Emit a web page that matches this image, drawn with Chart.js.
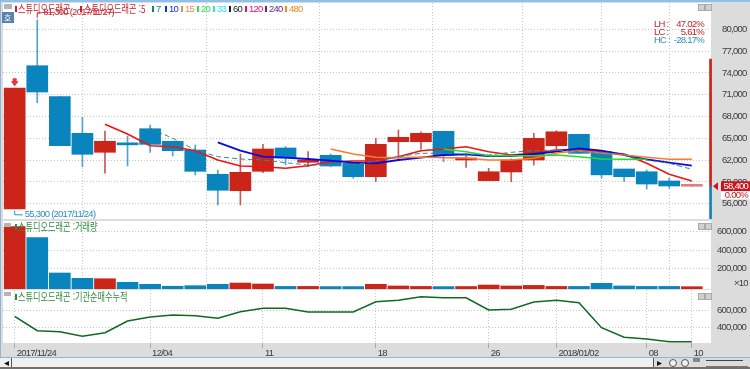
<!DOCTYPE html>
<html lang="ko">
<head>
<meta charset="utf-8">
<title>스튜디오드래곤</title>
<script src="https://cdn.jsdelivr.net/npm/chart.js@4/dist/chart.umd.min.js"></script>
<style>
html, body { margin: 0; padding: 0; }
body { width: 750px; height: 369px; overflow: hidden; background: #dcdcdc; position: relative; }
canvas { position: absolute; left: 0; }
.txt { position: absolute; white-space: pre; font-family: "Liberation Sans", sans-serif; font-size: 9.5px; letter-spacing: -0.75px; line-height: 10px; }
.kr { position: absolute; white-space: pre; font-family: "Noto Sans CJK KR", sans-serif; font-size: 11px; line-height: 11px; transform: scaleX(0.74); transform-origin: left top; }
.box { position: absolute; }
</style>
</head>
<body>
<canvas id="priceChart" width="750" height="216" style="top:3px"></canvas>
<canvas id="volumeChart" width="750" height="68" style="top:221px"></canvas>
<canvas id="instChart" width="750" height="79" style="top:290px"></canvas>
<div id="overlay"></div>
<script>
// candles
const opens  = [55300, 74990, 70730, 65690, 63075, 64300, 66320, 64590, 63390, 60050, 57790, 60460, 63670, 61700, 62660, 61560, 59720, 64530, 64530, 65960, 62020, 59170, 60370, 62020, 63980, 65550, 63160, 60780, 60400, 59130, 58400];
const closes = [71900, 71370, 63980, 62800, 64590, 64100, 64170, 63300, 60460, 57850, 60320, 63530, 62290, 62020, 61190, 59720, 64170, 65140, 65690, 62660, 62250, 60400, 62020, 65000, 65900, 62930, 59970, 59720, 58710, 58440, 58400];
const highs  = [71900, 81300, 70730, 67890, 66000, 65320, 66830, 64590, 64080, 60640, 62840, 64170, 63850, 63160, 62840, 61560, 65000, 66140, 65900, 65960, 62600, 60870, 62160, 65690, 66050, 65550, 63160, 60780, 60640, 59500, 58400];
const lows   = [55300, 69900, 63980, 61090, 60190, 61190, 63075, 62570, 59950, 55820, 55820, 60270, 61330, 61090, 61090, 59500, 59030, 62020, 63490, 61780, 61010, 59170, 59030, 61330, 63490, 62930, 59500, 59030, 58030, 58130, 58400];

const ma5  = [null, null, null, null, 66928, 65593, 63983, 63846, 63296, 62016, 61190, 61094, 60874, 61232, 61782, 61878, 61878, 62470, 63296, 63530, 63846, 63158, 62704, 62938, 63392, 63488, 63158, 62842, 61562, 60048, 59126];
const ma7  = [null, null, null, null, null, null, 66378, 65002, 63392, 62470, 62153, 62016, 61644, 61328, 61328, 61328, 61919, 62470, 62938, 62938, 62842, 62704, 63075, 63296, 63392, 63158, 63075, 62704, 62016, 61562, 60736];
const ma10 = [null, null, null, null, null, null, null, null, null, 64451, 63296, 62470, 62332, 62153, 61919, 61644, 61562, 62016, 62332, 62704, 62800, 62566, 62566, 62842, 63158, 63626, 63296, 62704, 62112, 61644, 61232];
const ma15 = [null, null, null, null, null, null, null, null, null, null, null, null, null, null, 63530, 62842, 62387, 62332, 62428, 62332, 62291, 62016, 62016, 62250, 62979, 63254, 62979, 62704, 62387, 62112, 62112];
const ma20 = [null, null, null, null, null, null, null, null, null, null, null, null, null, null, null, null, null, null, null, 63530, 63158, 62608, 62608, 62608, 62704, 62470, 62153, 62112, 62112];

const volumes = [654500, 534500, 149500, 91000, 87000, 48000, 26000, 5000, 11000, 26000, 40000, 29500, 3000, 3000, 1000, 1000, 26000, 8000, 3000, 1000, 2000, 18000, 8000, 14000, 3000, 3000, 37000, 8000, 3000, 3000, 0];
const instNet = [528800, 366000, 355000, 302700, 343500, 475700, 520900, 543500, 535600, 506200, 581000, 619000, 619000, 577400, 577400, 577400, 693800, 709600, 750300, 739000, 739000, 600000, 607900, 690400, 709600, 682500, 400000, 291500, 272300, 241800, 241800];

const priceTicks = [56000, 59000, 62000, 65000, 68000, 71000, 74000, 77000, 80000];
const volumeTicks = [200000, 400000, 600000];
const instTicks = [400000, 600000];
const dateTickIdx = [0, 6, 11, 16, 21, 24, 28, 30];
const dateTickLabels = ['2017/11/24', '12/04', '11', '18', '26', '2018/01/02', '08', '10'];

const RED = '#cb2419';
const BLUE = '#0a84bd';
const FONT = '"Liberation Sans", sans-serif';
const FONT_SIZE = 9.5;

const xMin = -0.518, xMax = 30.85;
const idx = opens.map((v, i) => i);

function linePoints(arr) {
    return arr.map((v, i) => ({ x: i, y: v }));
}

function xAxis(showLabels) {
    return {
        type: 'linear',
        min: xMin,
        max: xMax,
        offset: false,
        afterBuildTicks: (s) => { s.ticks = dateTickIdx.map(v => ({ value: v })); },
        afterFit: (s) => { s.height = showLabels ? 26 : 0; },
        border: { display: false, dash: [1, 2] },
        grid: { color: '#c6c6c6', drawTicks: showLabels, tickLength: 5, tickColor: '#a8a8a8' },
        ticks: {
            display: showLabels,
            autoSkip: false,
            maxRotation: 0,
            align: 'start',
            labelOffset: 2,
            padding: 0,
            color: '#3c3c3c',
            font: { family: FONT, size: FONT_SIZE },
            callback: (v) => dateTickLabels[dateTickIdx.indexOf(v)]
        }
    };
}

function yAxis(min, max, ticks, pad) {
    return {
        position: 'right',
        min: min,
        max: max,
        afterBuildTicks: (s) => { s.ticks = ticks.map(v => ({ value: v })); },
        afterFit: (s) => {
            s.width = 39;
            // tick padding would otherwise shrink the plot top and bottom
            s.paddingTop = 0;
            s.paddingBottom = 0;
        },
        border: { display: false, dash: [1, 2] },
        grid: { color: '#c6c6c6', drawTicks: false },
        ticks: {
            padding: pad,
            color: '#3c3c3c',
            font: { family: FONT, size: FONT_SIZE },
            callback: (v) => v.toLocaleString('en-US')
        }
    };
}

// white plot background, the page behind it stays grey
const whitePlot = {
    id: 'whitePlot',
    beforeDraw(chart) {
        const a = chart.chartArea;
        chart.ctx.letterSpacing = '-0.75px'; // the original labels are squeezed
        chart.ctx.fillStyle = '#fff';
        chart.ctx.fillRect(a.left, a.top, a.right - a.left, a.bottom - a.top);
    }
};

// high/low notes, down arrow and last price tag
const priceNotes = {
    id: 'priceNotes',
    afterDraw(chart) {
        const ctx = chart.ctx, x = chart.scales.x, y = chart.scales.y;
        const hiX = x.getPixelForValue(1), hiY = y.getPixelForValue(81300);
        const loX = x.getPixelForValue(0), loY = y.getPixelForValue(55300);
        const lastY = y.getPixelForValue(closes[closes.length - 1]);
        ctx.save();
        ctx.font = FONT_SIZE + 'px ' + FONT;
        ctx.textBaseline = 'middle';

        ctx.strokeStyle = ctx.fillStyle = '#c8202a';
        ctx.beginPath();
        ctx.moveTo(hiX, hiY - 2);
        ctx.lineTo(hiX, hiY - 7);
        ctx.lineTo(hiX + 4, hiY - 7);
        ctx.stroke();
        ctx.fillText('81,300 (2017/11/27)', hiX + 6, hiY - 7);

        ctx.strokeStyle = ctx.fillStyle = '#2b8fc4';
        ctx.beginPath();
        ctx.moveTo(loX, loY + 2);
        ctx.lineTo(loX, loY + 6);
        ctx.lineTo(loX + 8, loY + 6);
        ctx.stroke();
        ctx.fillText('55,300 (2017/11/24)', loX + 10, loY + 6);

        // arrow above first candle
        const topY = y.getPixelForValue(closes[0]);
        ctx.fillStyle = '#e8343a';
        ctx.beginPath();
        ctx.moveTo(loX - 2, topY - 10);
        ctx.lineTo(loX + 2, topY - 10);
        ctx.lineTo(loX + 2, topY - 7);
        ctx.lineTo(loX + 4, topY - 7);
        ctx.lineTo(loX, topY - 2);
        ctx.lineTo(loX - 4, topY - 7);
        ctx.lineTo(loX - 2, topY - 7);
        ctx.closePath();
        ctx.fill();

        // last price tag on the axis
        ctx.fillStyle = '#c8141e';
        ctx.beginPath();
        ctx.moveTo(713, lastY);
        ctx.lineTo(718, lastY - 4);
        ctx.lineTo(718, lastY + 4);
        ctx.closePath();
        ctx.fill();
        ctx.fillRect(721, lastY - 5, 29, 10);
        ctx.fillStyle = '#fff';
        ctx.fillRect(721, lastY + 5, 29, 8);
        ctx.textAlign = 'right';
        ctx.fillText('58,400', 748, lastY);
        ctx.fillStyle = '#c8141e';
        ctx.fillText('0.00%', 748, lastY + 9);
        ctx.restore();
    }
};

function maDataset(arr, color, width, dash) {
    return {
        type: 'line',
        data: linePoints(arr),
        borderColor: color,
        borderWidth: width,
        borderDash: dash || [],
        pointRadius: 0,
        tension: 0,
        spanGaps: false,
        order: 1
    };
}

function initPriceChart() {
    new Chart(document.getElementById('priceChart'), {
        type: 'bar',
        data: {
            datasets: [
                maDataset(ma7, '#2f8f8f', 1, [5, 3]),
                maDataset(ma20, '#22e022', 1.6),
                maDataset(ma15, '#ff7a2a', 1.6),
                maDataset(ma10, '#0a0ae0', 1.8),
                maDataset(ma5, '#ee1414', 1.6),
                {
                    // candle bodies
                    data: idx.map(i => ({ x: i, y: [opens[i], closes[i]] })),
                    backgroundColor: idx.map(i => opens[i] === closes[i] ? '#d98080' : (closes[i] >= opens[i] ? RED : BLUE)),
                    barThickness: 21,
                    minBarLength: 2,
                    order: 2
                },
                {
                    // wicks
                    data: idx.map(i => ({ x: i, y: [lows[i], highs[i]] })),
                    backgroundColor: idx.map(i => closes[i] >= opens[i] ? '#c9585a' : '#4fa3cf'),
                    barThickness: 1,
                    order: 3
                },
                {
                    // range bar on the right edge of the plot
                    data: [
                        { x: xMax - 0.02, y: [closes[30], 75900] },
                        { x: xMax - 0.02, y: [53900, closes[30]] }
                    ],
                    backgroundColor: ['#cc1f1f', '#1a7fb5'],
                    barThickness: 2,
                    clip: false,
                    order: 0
                }
            ]
        },
        options: {
            responsive: false,
            animation: false,
            grouped: false,
            layout: { autoPadding: false, padding: { left: 3 } },
            plugins: { legend: { display: false }, tooltip: { enabled: false } },
            scales: { x: xAxis(false), y: yAxis(53897, 83619, priceTicks, 11) }
        },
        plugins: [whitePlot, priceNotes]
    });
}

function initVolumeChart() {
    const volMin = -25100;
    new Chart(document.getElementById('volumeChart'), {
        type: 'bar',
        data: {
            datasets: [{
                data: linePoints(volumes),
                base: volMin,
                backgroundColor: idx.map(i => closes[i] >= opens[i] ? RED : BLUE),
                barThickness: 21
            }]
        },
        options: {
            responsive: false,
            animation: false,
            layout: { autoPadding: false, padding: { left: 3 } },
            plugins: { legend: { display: false }, tooltip: { enabled: false } },
            scales: { x: xAxis(false), y: yAxis(volMin, 716700, volumeTicks, 6) }
        },
        plugins: [whitePlot]
    });
}

function initInstChart() {
    new Chart(document.getElementById('instChart'), {
        type: 'line',
        data: {
            datasets: [{
                data: linePoints(instNet),
                borderColor: '#0f6b23',
                borderWidth: 1.6,
                pointRadius: 0,
                tension: 0
            }]
        },
        options: {
            responsive: false,
            animation: false,
            layout: { autoPadding: false, padding: { left: 3 } },
            plugins: { legend: { display: false }, tooltip: { enabled: false } },
            scales: { x: xAxis(true), y: yAxis(227100, 826000, instTicks, 6) }
        },
        plugins: [whitePlot]
    });
}

// legends, window chrome and other text around the plots
function addText(cls, text, x, y, color, extra) {
    const el = document.createElement('div');
    el.className = cls;
    el.textContent = text;
    el.style.left = x + 'px';
    el.style.top = y + 'px';
    el.style.color = color;
    if (extra) Object.assign(el.style, extra);
    document.getElementById('overlay').appendChild(el);
}

function addBox(x, y, w, h, color, extra) {
    const el = document.createElement('div');
    el.className = 'box';
    el.style.cssText = `left:${x}px;top:${y}px;width:${w}px;height:${h}px;background:${color}`;
    if (extra) Object.assign(el.style, extra);
    document.getElementById('overlay').appendChild(el);
}

function initOverlay() {
    // window edges
    addBox(0, 0, 750, 2, '#8fc1e8');
    addBox(0, 0, 1, 358, '#8fb6d8');

    // price legend
    const maLegend = [
        ['7', '#1a7f7f', 152], ['10', '#1030e0', 165], ['15', '#f08a50', 181], ['20', '#30e050', 197],
        ['33', '#30e0f0', 213], ['60', '#202020', 229], ['120', '#e0107a', 245], ['240', '#5a2a90', 265], ['480', '#f08a20', 285]
    ];
    addBox(15, 6, 2, 6, '#c8202a');
    addText('kr', '스튜디오드래곤', 18, 3, '#c8202a');
    addBox(80, 6, 2, 6, '#c8202a');
    addText('kr', '스튜디오드래곤 :5', 84, 3, '#c8202a');
    maLegend.forEach(m => {
        addBox(m[2], 6, 2, 6, m[1]);
        addText('txt', m[0], m[2] + 4, 4, m[1]);
    });

    // top left controls
    addBox(4, 4, 8, 5, '#b4b4b4');
    addBox(2, 12, 12, 11, '#5b82ad');
    addText('kr', '호', 4, 12, '#fff', { transform: 'none', fontSize: '8px' });

    // panel buttons
    [4, 223, 293].forEach(y => {
        addBox(698, y, 5, 5, '#d0d0d0', { border: '1px solid #aaa' });
        addBox(705, y, 5, 5, '#d0d0d0', { border: '1px solid #aaa' });
    });

    // LH / LC / HC
    [['LH :', '47.02%', '#c8202a', 19], ['LC :', '5.61%', '#c8202a', 27], ['HC :', '-28.17%', '#2b8fc4', 35]].forEach(r => {
        addText('txt', r[0], 654, r[3], r[2]);
        addText('txt', r[1], 0, r[3], r[2], { left: 'auto', right: '46px' });
    });

    // sub panel legends
    addBox(15, 224, 2, 6, '#2f8a3f');
    addText('kr', '스튜디오드래곤 :거래량', 18, 221, '#2f8a3f');
    addBox(15, 294, 2, 6, '#2f8a3f');
    addText('kr', '스튜디오드래곤 :기관순매수누적', 18, 291, '#2f8a3f');
    addBox(4, 223, 7, 4, '#b4b4b4');
    addBox(4, 292, 7, 4, '#b4b4b4');
    addText('txt', '×10', 734, 278, '#3c3c3c');

    // scrollbar row
    addBox(0, 357, 750, 1, '#8fb6d8');
    addBox(0, 358, 653, 9, '#f0f0f0');
    addBox(0, 367, 750, 2, '#707070');
    addBox(11, 358, 1, 9, '#555');
    addBox(653, 358, 1, 9, '#555');
    addText('txt', '◂', 4, 358, '#111');
    addText('txt', '▸', 657, 358, '#111');
    addBox(669, 359, 6, 6, '#f0f0f0', { border: '1px solid #555', borderRadius: '50%' });
    addBox(681, 359, 6, 6, '#f0f0f0', { border: '1px solid #555', borderRadius: '50%' });
    addBox(693, 358, 7, 4, '#888');
    addBox(706, 360, 37, 1, '#444');
    addBox(706, 366, 42, 1, '#777');
}

document.addEventListener('DOMContentLoaded', function() {
    initPriceChart();
    initVolumeChart();
    initInstChart();
    initOverlay();
});
</script>
</body>
</html>
